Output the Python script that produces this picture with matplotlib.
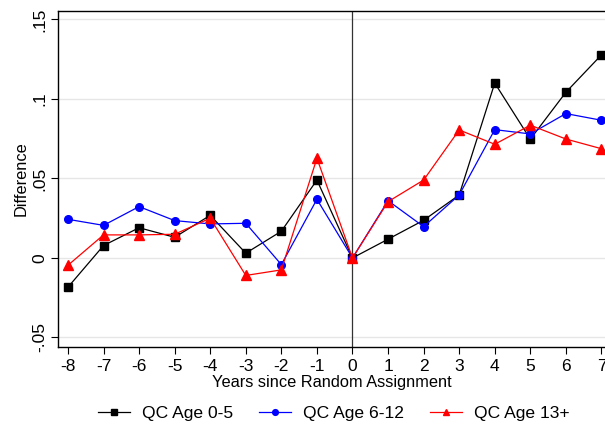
import numpy as np
import matplotlib.pyplot as plt

plt.rcParams['font.family'] = ['Liberation Sans', 'DejaVu Sans']
plt.rcParams['axes.unicode_minus'] = False

years = np.arange(-8, 8)
age_0_5 = [-0.0184, 0.0078, 0.019, 0.013, 0.0268, 0.003, 0.0168, 0.049,
           0.0, 0.0118, 0.0237, 0.0396, 0.110, 0.0747, 0.1042, 0.1277]
age_6_12 = [0.0243, 0.0205, 0.0323, 0.0235, 0.0214, 0.0218, -0.0042, 0.0369,
            0.0, 0.036, 0.0197, 0.0396, 0.0807, 0.078, 0.0908, 0.0866]
age_13p = [-0.0046, 0.0145, 0.0145, 0.0149, 0.025, -0.011, -0.0075, 0.0627,
           0.0, 0.0354, 0.049, 0.0805, 0.0715, 0.0835, 0.0748, 0.0687]

yticks = [-0.05, 0, 0.05, 0.1, 0.15]
ytick_labels = ['-.05', '0', '.05', '.1', '.15']

fig = plt.figure(figsize=(6.05, 4.28), dpi=100)
ax = fig.add_axes([58 / 605, 81 / 428, 1 - 58 / 605, (347 - 10.7) / 428])

for yt in yticks:
    ax.axhline(yt, color='#e6e6e6', lw=1, zorder=0)
ax.axvline(0, color='#333333', lw=0.9, zorder=1)

ax.plot(years, age_0_5, color='black', lw=0.9, marker='s', ms=5.2, label='QC Age 0-5', zorder=3)
ax.plot(years, age_6_12, color='blue', lw=0.9, marker='o', ms=5.5, label='QC Age 6-12', zorder=3)
ax.plot(years, age_13p, color='red', lw=0.9, marker='^', ms=6.5, label='QC Age 13+', zorder=3)

ax.set_xlim(-8.28, 7.1)
ax.set_ylim(-0.056, 0.1555)
ax.set_xticks(years)
ax.set_yticks(yticks)
ax.set_yticklabels(ytick_labels, rotation=90, va='center')
ax.tick_params(axis='both', labelsize=12.5, length=5, width=0.8, direction='out')
ax.tick_params(axis='y', pad=3)
ax.spines['right'].set_visible(False)
for s in ['left', 'bottom', 'top']:
    ax.spines[s].set_linewidth(1.0)

ax.set_xlabel('Years since Random Assignment', fontsize=11.8, labelpad=1)
ax.set_ylabel('Difference', fontsize=11.8, labelpad=2)

fig.legend(loc='center', bbox_to_anchor=(0.552, 1 - 413 / 428), ncol=3, frameon=False,
           fontsize=12.6, handlelength=1.8, columnspacing=1.5, handletextpad=0.7,
           markerscale=0.75)

fig.savefig('out.png', dpi=100)
